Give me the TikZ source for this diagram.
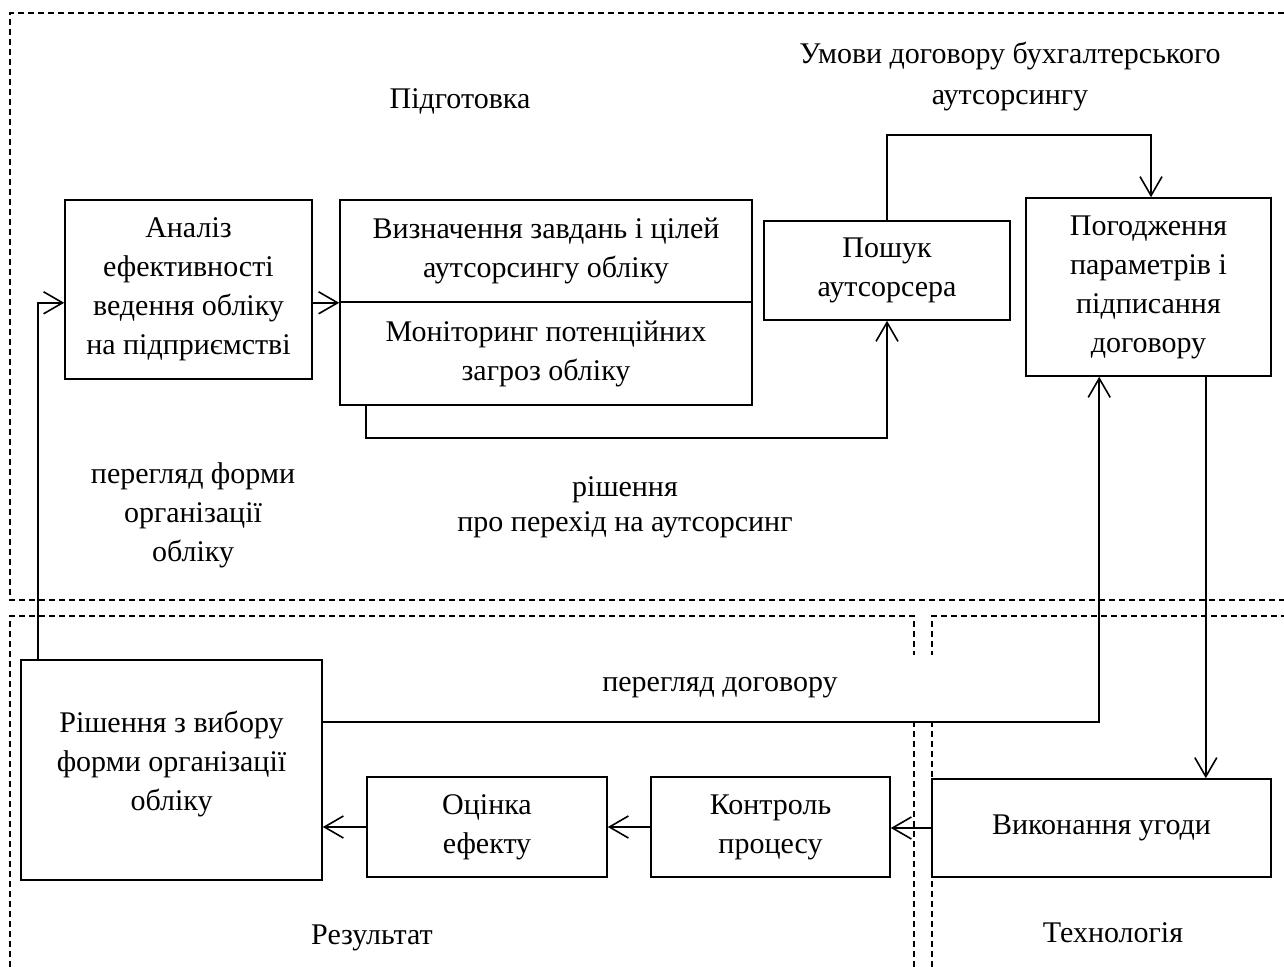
\documentclass[tikz,border=0pt]{standalone}
\usepackage{fontspec}
\setmainfont{Liberation Serif}
\usetikzlibrary{arrows.meta,calc}
\begin{document}
\begin{tikzpicture}[x=0.5pt,y=-0.5pt,
  font=\fontsize{15}{19.5}\selectfont,
  box/.style={draw, line width=0.8pt, align=center, inner sep=0pt},
  arr/.style={line width=0.9pt, -{Straight Barb[length=9.5pt,width=11pt,line width=0.8pt]}},
  zone/.style={line width=0.6pt, dash pattern=on 3pt off 2pt},
  lbl/.style={align=center, inner sep=0pt}]
\useasboundingbox (0,0) rectangle (1284,967);
% zones
\draw[zone] (1284,13) -- (10,13) -- (10,600) -- (1284,600);
\draw[zone] (10,967) -- (10,616) -- (914,616) -- (914,967);
\draw[zone] (932,967) -- (932,616) -- (1284,616);
% labels
\node[lbl] (l1) at (460,101) {Підготовка};
\node[lbl] (l2) at (1010,77) {Умови договору бухгалтерського\\[1pt]аутсорсингу};
\node[lbl] (l3) at (625,507) {рішення\\[-2pt]про перехід на аутсорсинг};
\node[lbl] (l4) at (193,515) {перегляд форми\\організації\\обліку};
\node[lbl, fill=white, minimum width=380pt, minimum height=33pt] (l5) at (720,688) {перегляд договору};
\node[lbl] (l6) at (372,938) {Результат};
\node[lbl] (l7) at (1113,933) {Технологія};
% boxes
\node[box, minimum width=123.5pt, minimum height=89.5pt] (an) at (188.5,289.5) {Аналіз\\ефективності\\ведення обліку\\на підприємстві};
\node[box, minimum width=206pt, minimum height=51pt] (vyz1) at (546,251) {Визначення завдань і цілей\\аутсорсингу обліку};
\node[box, minimum width=206pt, minimum height=51.5pt] (vyz2) at (546,353.5) {Моніторинг потенційних\\загроз обліку};
\node[box, minimum width=123pt, minimum height=49.5pt] (posh) at (887,270.5) {Пошук\\аутсорсера};
\node[box, minimum width=122.5pt, minimum height=89pt] (pog) at (1148.5,287) {Погодження\\параметрів і\\підписання\\договору};
\node[box, minimum width=150.5pt, minimum height=110pt] (rish) at (171.5,770) {Рішення з вибору\\форми організації\\обліку\\[-10pt]\mbox{}};
\node[box, minimum width=120pt, minimum height=50pt] (oc) at (487,827) {Оцінка\\ефекту};
\node[box, minimum width=119.5pt, minimum height=50pt] (kon) at (770.5,827) {Контроль\\процесу};
\node[box, minimum width=169.5pt, minimum height=49pt] (vyk) at (1101.5,828) {Виконання угоди};
% connectors
\coordinate (d1) at ($(pog.south east)+(-66,0)$);
\coordinate (u1) at ($(pog.south west)+(74,0)$);
\coordinate (t1) at ($(pog.north)+(2.5,0)$);
\draw[arr] (rish.north west) ++(18,0) |- (an.west |- vyz1.south);
\draw[arr] (an.east |- vyz1.south) -- (vyz1.south west);
\draw[arr] (vyz2.south west) ++(27,0) -- ++(0,32) -| (posh.south);
\draw[arr] (posh.north) -- ++(0,-85) -| (t1);
\draw[arr] (d1) -- (d1 |- vyk.north);
\draw[arr] (rish.east) ++(0,-48) -| (u1);
\draw[arr] (vyk.west) -- (vyk.west -| kon.east);
\draw[arr] (kon.west) -- (oc.east);
\draw[arr] (oc.west) -- (oc.west -| rish.east);
\end{tikzpicture}
\end{document}
